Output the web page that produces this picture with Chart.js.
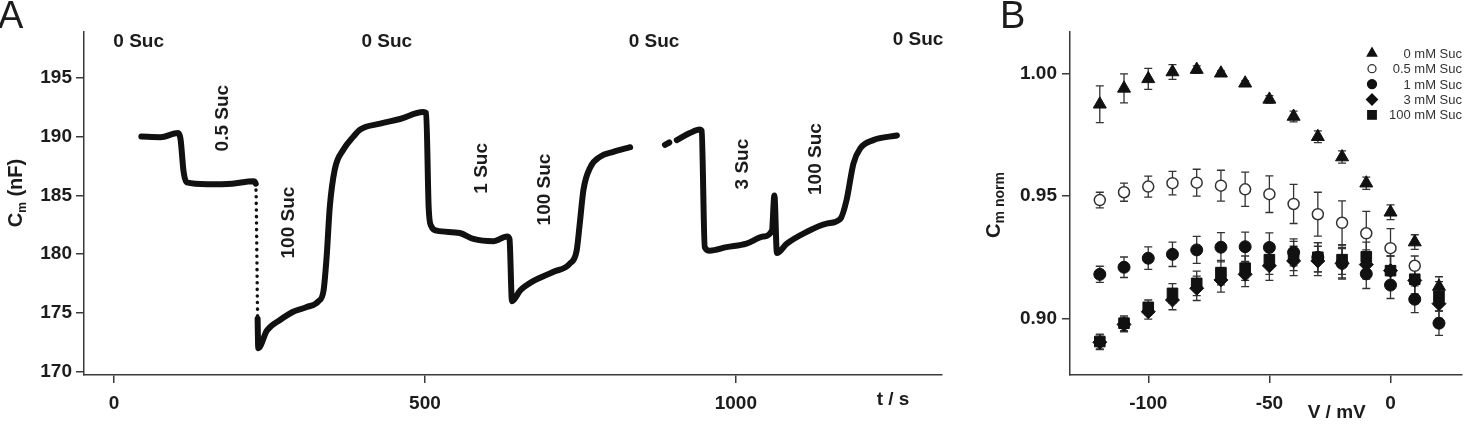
<!DOCTYPE html>
<html>
<head>
<meta charset="utf-8">
<script src="https://cdn.jsdelivr.net/npm/chart.js@4.4.1/dist/chart.umd.min.js"></script>
<style>
    html, body { margin: 0; padding: 0; background: #fff; }
    body { width: 1470px; height: 431px; position: relative; overflow: hidden; }
    canvas { position: absolute; top: 0; }
    #traceChart { left: 0; }
    #ivChart { left: 960px; }
</style>
</head>
<body>
<canvas id="traceChart" width="960" height="431"></canvas>
<canvas id="ivChart" width="510" height="431"></canvas>
<script>
// ---- panel A: capacitance trace ----
const traceT = [44, 75, 103, 107, 112, 117, 150, 190, 224, 228, 231, 232, 246, 267, 288, 310, 329, 337, 342, 347,
    355, 369, 385, 396, 428, 460, 497, 502, 506, 510, 519, 556, 578, 610, 632, 636, 640, 653, 674, 707,
    733, 744, 749, 755, 766, 782, 803, 830, 858, 886, 893, 899, 905, 926, 942, 945, 950, 958, 985, 1017,
    1044, 1058, 1062, 1066, 1082, 1114, 1146, 1168, 1178, 1189, 1200, 1221, 1259];
const traceC = [190.0, 189.95, 190.3, 189.8, 187.0, 186.1, 185.95, 186.0, 186.2, 186.0, 174.5, 172.0, 173.5, 174.4, 175.1, 175.5, 176.0, 176.9, 179.8, 184.0,
    187.2, 188.9, 190.0, 190.6, 191.1, 191.5, 192.1, 192.0, 184.0, 182.4, 182.0, 181.8, 181.3, 181.1, 181.5, 181.3, 176.0, 176.9, 177.7, 178.5,
    179.2, 180.3, 182.6, 185.5, 187.4, 188.3, 188.7, 189.1, null, 189.3, 189.5, null, 189.7, 190.3, 190.6, 190.5, 180.6, 180.3, 180.6, 180.9,
    181.5, 182.0, 185.0, 180.1, 180.9, 181.9, 182.6, 183.0, 184.6, 187.7, 189.0, 189.7, 190.1];
const timeTicks = [0, 500, 1000];
const capTicks = [170, 175, 180, 185, 190, 195];

// solution labels (text, time, capacitance, rotated)
const sucLabels = ['0 Suc', '0 Suc', '0 Suc', '0 Suc', '0.5 Suc', '100 Suc', '1 Suc', '100 Suc', '3 Suc', '100 Suc'];
const sucLabelT = [39.7, 438.6, 868.5, 1293, 174.5, 280.6, 591.3, 693.2, 1010.8, 1128.2];
const sucLabelC = [198.1, 198.1, 198.1, 198.25, 191.57, 182.69, 187.3, 185.5, 187.66, 188.09];
const sucLabelRot = [false, false, false, false, true, true, true, true, true, true];

// ---- panel B: normalised Cm vs voltage ----
const voltages = [-120, -110, -100, -90, -80, -70, -60, -50, -40, -30, -20, -10, 0, 10, 20];
const seriesNames = ['0 mM Suc', '0.5 mM Suc', '1 mM Suc', '3 mM Suc', '100 mM Suc'];
const suc0 = [0.9876, 0.9941, 0.9980, 1.0008, 1.0018, 1.0003, 0.9962, 0.9896, 0.9826, 0.9743, 0.9660, 0.9553, 0.9434, 0.9312, 0.9130];
const suc0Err = [0.0075, 0.0059, 0.0043, 0.0030, 0.0015, 0.0010, 0.0010, 0.0015, 0.0022, 0.0024, 0.0025, 0.0025, 0.0030, 0.0030, 0.0040];
const suc05 = [0.9484, 0.9516, 0.9539, 0.9553, 0.9555, 0.9543, 0.9528, 0.9508, 0.9468, 0.9426, 0.9391, 0.9348, 0.9287, 0.9215, null];
const suc05Err = [0.0032, 0.0037, 0.0043, 0.0048, 0.0055, 0.0063, 0.0070, 0.0075, 0.0080, 0.0090, 0.0090, 0.0090, 0.0080, 0.0040, null];
const suc1 = [0.9180, 0.9209, 0.9246, 0.9262, 0.9280, 0.9291, 0.9293, 0.9290, 0.9270, 0.9250, 0.9225, 0.9182, 0.9136, 0.9078, 0.8980];
const suc1Err = [0.0033, 0.0042, 0.0046, 0.0050, 0.0055, 0.0060, 0.0060, 0.0060, 0.0055, 0.0060, 0.0065, 0.0060, 0.0055, 0.0055, 0.0050];
const suc3 = [0.8902, 0.8975, 0.9027, 0.9075, 0.9123, 0.9157, 0.9180, 0.9215, 0.9235, 0.9235, 0.9225, 0.9220, 0.9195, 0.9155, 0.9060];
const suc3Err = [0.003, 0.003, 0.003, 0.004, 0.005, 0.005, 0.005, 0.006, 0.006, 0.006, 0.006, 0.006, 0.006, 0.006, 0.006];
const suc100 = [0.8905, 0.8980, 0.9045, 0.9102, 0.9143, 0.9187, 0.9205, 0.9240, 0.9255, 0.9250, 0.9240, 0.9252, 0.9195, 0.9160, 0.9090];
const suc100Err = [0.003, 0.003, 0.003, 0.004, 0.005, 0.005, 0.005, 0.006, 0.006, 0.006, 0.006, 0.006, 0.006, 0.006, 0.006];
const voltTicks = [-100, -50, 0];
const normTicks = [0.90, 0.95, 1.00];

const FONT = "'Liberation Sans', Arial, sans-serif";
const TEXT = '#1c1c1c';
const AXIS = '#3a3a3a';
const DOT_DROP_T = 228;  // the dotted wash-in segment starts here

document.addEventListener('DOMContentLoaded', function () {
    Chart.defaults.font.family = FONT;
    Chart.defaults.color = TEXT;
    createTraceChart('traceChart');
    createIvChart('ivChart');
});

function axisStyle(tickSize) {
    return {
        grid: { display: true, drawOnChartArea: false, drawTicks: true, tickLength: 8, color: AXIS, lineWidth: 1.5 },
        border: { display: true, color: AXIS, width: 1.5 },
        ticks: { font: { size: tickSize, weight: 'bold' }, color: TEXT, autoSkip: false, maxRotation: 0 }
    };
}

// draws "C" with a subscript, rotated up the left side
function drawSubTitle(ctx, cx, cy, main, sub, tail, size, subSize) {
    ctx.save();
    ctx.translate(cx, cy);
    ctx.rotate(-Math.PI / 2);
    ctx.fillStyle = TEXT;
    ctx.textBaseline = 'alphabetic';
    ctx.textAlign = 'left';
    ctx.font = 'bold ' + size + 'px ' + FONT;
    const w1 = ctx.measureText(main).width;
    const w3 = ctx.measureText(tail).width;
    ctx.font = 'bold ' + subSize + 'px ' + FONT;
    const w2 = ctx.measureText(sub).width;
    let x = -(w1 + w2 + w3) / 2;
    ctx.font = 'bold ' + size + 'px ' + FONT;
    ctx.fillText(main, x, 0);
    x += w1;
    ctx.font = 'bold ' + subSize + 'px ' + FONT;
    ctx.fillText(sub, x, 4);
    x += w2;
    ctx.font = 'bold ' + size + 'px ' + FONT;
    ctx.fillText(tail, x, 0);
    ctx.restore();
}

function createTraceChart(canvasId) {
    const ctx = document.getElementById(canvasId).getContext('2d');

    const tracePoints = traceT.map((t, i) => ({ x: t, y: traceC[i] }));

    const textPlugin = {
        id: 'traceText',
        afterDraw(chart) {
            const c = chart.ctx;
            const xs = chart.scales.x, ys = chart.scales.y;
            c.save();
            c.fillStyle = TEXT;
            c.font = 'bold 19px ' + FONT;
            c.textAlign = 'center';
            c.textBaseline = 'middle';
            sucLabels.forEach((txt, i) => {
                const px = xs.getPixelForValue(sucLabelT[i]);
                const py = ys.getPixelForValue(sucLabelC[i]);
                c.save();
                c.translate(px, py);
                if (sucLabelRot[i]) c.rotate(-Math.PI / 2);
                c.fillText(txt, 0, 0);
                c.restore();
            });
            c.fillText('t / s', 893, 400);
            c.font = '38px ' + FONT;
            c.textAlign = 'left';
            c.textBaseline = 'alphabetic';
            c.fillText('A', -2, 28);
            c.restore();
            drawSubTitle(c, 22, 193, 'C', 'm', ' (nF)', 20, 12);
        }
    };

    const xAxis = axisStyle(19);
    xAxis.ticks.padding = 9;
    xAxis.ticks.callback = v => String(v);
    const yAxis = axisStyle(19);
    yAxis.ticks.padding = 4;

    new Chart(ctx, {
        type: 'scatter',
        data: {
            datasets: [{
                label: 'Cm',
                data: tracePoints,
                showLine: true,
                spanGaps: false,
                cubicInterpolationMode: 'monotone',
                borderColor: '#111',
                borderWidth: 6,
                borderCapStyle: 'round',
                borderJoinStyle: 'round',
                pointRadius: 0,
                segment: {
                    borderDash: c => (c.p0.parsed.x === DOT_DROP_T ? [0.1, 6.5] : undefined),
                    borderWidth: c => (c.p0.parsed.x === DOT_DROP_T ? 3.5 : undefined)
                }
            }]
        },
        options: {
            responsive: false,
            animation: false,
            layout: { padding: { top: 32, right: 18.3, bottom: 0, left: 0 } },
            plugins: { legend: { display: false }, tooltip: { enabled: false } },
            scales: {
                x: Object.assign({
                    type: 'linear', min: -48.2, max: 1331,
                    afterBuildTicks: s => { s.ticks = timeTicks.map(v => ({ value: v })); },
                    afterFit: s => { s.height = 56; }
                }, xAxis),
                y: Object.assign({
                    type: 'linear', min: 169.72, max: 198.9,
                    afterBuildTicks: s => { s.ticks = capTicks.map(v => ({ value: v })); },
                    afterFit: s => { s.width = 84; }
                }, yAxis)
            }
        },
        plugins: [textPlugin]
    });
}

function drawMarker(c, style, x, y, r) {
    c.beginPath();
    if (style === 'triangle') {
        c.moveTo(x, y - r);
        c.lineTo(x + r * 0.866, y + r * 0.5);
        c.lineTo(x - r * 0.866, y + r * 0.5);
        c.closePath();
    } else if (style === 'rectRot') {
        c.moveTo(x, y - r);
        c.lineTo(x + r, y);
        c.lineTo(x, y + r);
        c.lineTo(x - r, y);
        c.closePath();
    } else if (style === 'rect') {
        const s = r * Math.SQRT1_2;
        c.rect(x - s, y - s, 2 * s, 2 * s);
    } else {
        c.arc(x, y, r, 0, Math.PI * 2);
    }
}

function createIvChart(canvasId) {
    const ctx = document.getElementById(canvasId).getContext('2d');

    const values = [suc0, suc05, suc1, suc3, suc100];
    const errors = [suc0Err, suc05Err, suc1Err, suc3Err, suc100Err];
    const styles = ['triangle', 'circle', 'circle', 'rectRot', 'rect'];
    const radii = [7.5, 5.5, 6, 7, 7.5];
    const fills = ['#111', '#fff', '#111', '#111', '#111'];
    const legendRadii = [5.5, 4, 4.5, 5.5, 6];

    const datasets = values.map((arr, k) => ({
        label: seriesNames[k],
        data: voltages.map((v, i) => ({ x: v, y: arr[i] })),
        errors: errors[k],
        pointStyle: styles[k],
        pointRadius: radii[k],
        pointBackgroundColor: fills[k],
        pointBorderColor: k === 1 ? '#333' : '#111',
        pointBorderWidth: k === 1 ? 1.5 : 1,
        showLine: false
    }));

    const errorBars = {
        id: 'errorBars',
        beforeDatasetsDraw(chart) {
            const c = chart.ctx;
            const xs = chart.scales.x, ys = chart.scales.y;
            c.save();
            c.strokeStyle = '#333';
            c.lineWidth = 1.3;
            chart.data.datasets.forEach(ds => {
                ds.data.forEach((p, j) => {
                    const e = ds.errors[j];
                    if (p.y == null || e == null) return;
                    const px = xs.getPixelForValue(p.x);
                    const top = ys.getPixelForValue(p.y + e);
                    const bot = ys.getPixelForValue(p.y - e);
                    c.beginPath();
                    c.moveTo(px, top); c.lineTo(px, bot);
                    c.moveTo(px - 4, top); c.lineTo(px + 4, top);
                    c.moveTo(px - 4, bot); c.lineTo(px + 4, bot);
                    c.stroke();
                });
            });
            c.restore();
        }
    };

    const textPlugin = {
        id: 'ivText',
        afterDraw(chart) {
            const c = chart.ctx;
            c.save();
            // legend
            c.font = '13px ' + FONT;
            c.textAlign = 'right';
            c.textBaseline = 'middle';
            seriesNames.forEach((name, k) => {
                const y = 53.3 + k * 15.4;
                c.fillStyle = fills[k];
                c.strokeStyle = k === 1 ? '#333' : '#111';
                c.lineWidth = 1.3;
                drawMarker(c, styles[k], 412, y, legendRadii[k]);
                c.fill();
                c.stroke();
                c.fillStyle = '#333';
                c.fillText(name, 502, y + 1);
            });
            c.fillStyle = TEXT;
            c.font = 'bold 19px ' + FONT;
            c.textAlign = 'center';
            c.fillText('V / mV', 376.7, 413);
            c.font = '38px ' + FONT;
            c.textAlign = 'left';
            c.textBaseline = 'alphabetic';
            c.fillText('B', 40, 28);
            c.restore();
            drawSubTitle(c, 40, 205, 'C', 'm norm', '', 20, 14);
        }
    };

    const xAxis = axisStyle(19);
    xAxis.ticks.padding = 9;
    xAxis.ticks.callback = v => String(v);
    const yAxis = axisStyle(19);
    yAxis.ticks.padding = 5;
    yAxis.ticks.callback = v => v.toFixed(2);

    new Chart(ctx, {
        type: 'scatter',
        data: { datasets: datasets },
        options: {
            responsive: false,
            animation: false,
            layout: { padding: { top: 31.7, right: 5, bottom: 0, left: 0 } },
            plugins: { legend: { display: false }, tooltip: { enabled: false } },
            scales: {
                x: Object.assign({
                    type: 'linear', min: -132.3, max: 29.3,
                    afterBuildTicks: s => { s.ticks = voltTicks.map(v => ({ value: v })); },
                    afterFit: s => { s.height = 56; }
                }, xAxis),
                y: Object.assign({
                    type: 'linear', min: 0.8768, max: 1.0173,
                    afterBuildTicks: s => { s.ticks = normTicks.map(v => ({ value: v })); },
                    afterFit: s => { s.width = 110; }
                }, yAxis)
            }
        },
        plugins: [errorBars, textPlugin]
    });
}
</script>
</body>
</html>
